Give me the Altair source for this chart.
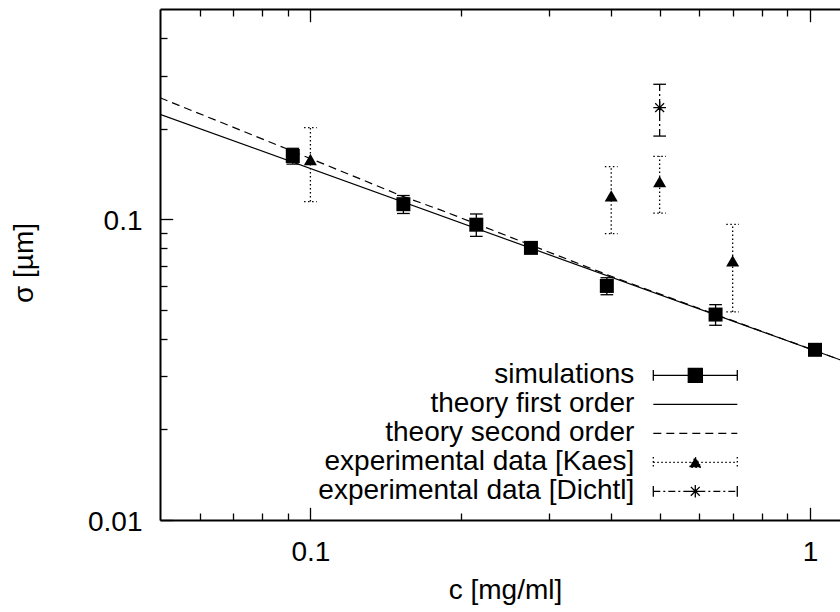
import altair as alt
import pandas as pd

FONT = "Liberation Sans"
FS = 28

# ---------------- data ----------------
sim_c = [0.0922, 0.1535, 0.2148, 0.2763, 0.392, 0.647, 1.023]
sim_s = [0.1623, 0.1122, 0.0959, 0.0803, 0.0600, 0.0482, 0.0368]
sim_err = [0.0098, 0.0077, 0.0082, 0.0020, 0.0039, 0.0038, 0.0010]

kaes_c = [0.1, 0.4, 0.5, 0.7]
kaes_s = [0.158, 0.1195, 0.1333, 0.0727]
kaes_err = [0.0435, 0.0300, 0.0285, 0.0235]

dichtl_c = [0.5]
dichtl_s = [0.235]
dichtl_err = [0.046]

th1_c = [0.05, 1.148]
th1_s = [0.2233, 0.0341]
th2_c = [0.05, 0.0891, 0.1535, 0.182, 0.4, 0.7, 1.148]
th2_s = [0.2535, 0.1721, 0.1189, 0.1074, 0.0646, 0.0460, 0.0341]

legend_labels = [
    "simulations",
    "theory first order",
    "theory second order",
    "experimental data [Kaes]",
    "experimental data [Dichtl]",
]

x_domain = [0.05, 1.148]
y_domain = [0.01, 0.5]
x_major = [0.1, 1]
x_minor = [0.06, 0.07, 0.08, 0.09, 0.2, 0.3, 0.4, 0.5, 0.6, 0.7, 0.8, 0.9]
y_major = [0.01, 0.1]
y_minor = [0.02, 0.03, 0.04, 0.05, 0.06, 0.07, 0.08, 0.09, 0.2, 0.3, 0.4]

# ---------------- styles ----------------
W, H = 680, 511
LW = 1.3
DASH_SOLID = [1, 0]
DASH_SECOND = [8, 5]
DASH_KAES = [1.5, 2.5]
DASH_DICHTL = [7, 3, 2, 3]

CAP = "M-1,0L1,0"
STAR = ("M0,0L1,0M0,0L-1,0M0,0L0,1M0,0L0,-1"
        "M0,0L0.7,0.7M0,0L-0.7,-0.7M0,0L0.7,-0.7M0,0L-0.7,0.7")
# legend symbols (1 unit = 13 px, symbol size 676)
SYM_SIM = ("M-3.23,0L3.23,0M-3.23,-0.41L-3.23,0.41M3.23,-0.41L3.23,0.41"
           "M-0.54,-0.54L0.54,-0.54L0.54,0.54L-0.54,0.54Z")
SYM_LINE = "M-3.23,0L3.23,0"
SYM_KAES = ("M-3.23,0L3.23,0M-3.23,-0.41L-3.23,0.41M3.23,-0.41L3.23,0.41"
            "M0,-0.39L0.45,0.39L-0.45,0.39Z")
SYM_DICHTL = ("M-3.23,0L3.23,0M-3.23,0L-3.23,-0.41M-3.23,0L-3.23,0.41"
              "M3.23,0L3.23,-0.41M3.23,0L3.23,0.41"
              "M0,0L0.485,0M0,0L-0.485,0M0,0L0,0.485M0,0L0,-0.485"
              "M0,0L0.343,0.343M0,0L-0.343,-0.343M0,0L0.343,-0.343M0,0L-0.343,0.343")


def err_df(c, s, e):
    return pd.DataFrame({"c": c, "s": s,
                         "lo": [a - b for a, b in zip(s, e)],
                         "hi": [a + b for a, b in zip(s, e)]})


def cap_df(c, s, e):
    d = err_df(c, s, e)
    return pd.concat([pd.DataFrame({"c": d["c"], "s": d["lo"]}),
                      pd.DataFrame({"c": d["c"], "s": d["hi"]})], ignore_index=True)


sim_df = err_df(sim_c, sim_s, sim_err)
kaes_df = err_df(kaes_c, kaes_s, kaes_err)
dichtl_df = err_df(dichtl_c, dichtl_s, dichtl_err)
sim_caps = cap_df(sim_c, sim_s, sim_err)
kaes_caps = cap_df(kaes_c, kaes_s, kaes_err)
dichtl_caps = cap_df(dichtl_c, dichtl_s, dichtl_err)
th1_df = pd.DataFrame({"c": th1_c, "s": th1_s})
th2_df = pd.DataFrame({"c": th2_c, "s": th2_s})
legend_df = pd.DataFrame({"series": legend_labels,
                          "c": [0.1] * 5, "s": [0.1] * 5})

xs = alt.Scale(type="log", domain=x_domain, nice=False)
ys = alt.Scale(type="log", domain=y_domain, nice=False)


def tick_axis(orient, offset, values, size, domain=False):
    return alt.Axis(orient=orient, offset=offset, values=values, tickSize=size,
                    tickWidth=LW, tickColor="black", ticks=True, labels=False,
                    domain=domain, domainColor="black", domainWidth=2,
                    grid=False, title=None)


x_main = alt.Axis(orient="bottom", values=x_major, format="~g", ticks=False,
                  tickSize=0, labelFont=FONT, labelFontSize=FS, labelColor="black",
                  labelBaseline="alphabetic", labelPadding=40, labelAlign="center",
                  domain=True, domainColor="black", domainWidth=2, grid=False,
                  title="c [mg/ml]", titleFont=FONT, titleFontSize=FS,
                  titleFontWeight="normal", titleColor="black", titleX=345,
                  titleY=78, titleBaseline="alphabetic", titleAlign="center")
y_main = alt.Axis(orient="left", values=y_major, format="~g", ticks=False,
                  tickSize=0, labelFont=FONT, labelFontSize=FS, labelColor="black",
                  labelBaseline="middle", labelAlign="right", labelPadding=18,
                  labelOffset=2,
                  domain=True, domainColor="black", domainWidth=2, grid=False,
                  title="σ [µm]", titleFont=FONT, titleFontSize=FS,
                  titleFontWeight="normal", titleColor="black", titleAngle=270,
                  titleX=-128, titleY=253.5, titleBaseline="alphabetic",
                  titleAlign="center")


def xy(xaxis, yaxis):
    return dict(x=alt.X("c:Q", scale=xs, axis=xaxis),
                y=alt.Y("s:Q", scale=ys, axis=yaxis))


# theory lines
l_th1 = alt.Chart(th1_df).mark_line(color="black", strokeWidth=1.2, clip=True).encode(
    **xy(x_main, y_main))
l_th2 = alt.Chart(th2_df).mark_line(color="black", strokeWidth=1.2, clip=True,
                                    strokeDash=DASH_SECOND).encode(
    **xy(tick_axis("bottom", -H, x_major, 12.7, domain=True),
         tick_axis("right", -W, y_major, 12.7)))

# simulations
l_sim_bar = alt.Chart(sim_df).mark_rule(color="black", strokeWidth=LW).encode(
    x=alt.X("c:Q", scale=xs, axis=tick_axis("bottom", -H, x_minor, 7)),
    y=alt.Y("lo:Q", scale=ys, axis=tick_axis("right", -W, y_minor, 7)),
    y2="hi:Q")
l_sim_cap = alt.Chart(sim_caps).mark_point(
    shape=CAP, filled=False, color="black", strokeWidth=LW, size=161, opacity=1).encode(
    **xy(tick_axis("top", -H, x_major, 12.7), None))
l_sim_pt = alt.Chart(sim_df).mark_point(
    shape="square", filled=True, color="black", size=196, opacity=1).encode(
    **xy(tick_axis("top", -H, x_minor, 7), None))

# Kaes
l_kaes_bar = alt.Chart(kaes_df).mark_rule(color="black", strokeWidth=LW,
                                          strokeDash=DASH_KAES).encode(
    x=alt.X("c:Q", scale=xs, axis=None),
    y=alt.Y("lo:Q", scale=ys, axis=None), y2="hi:Q")
l_kaes_cap = alt.Chart(kaes_caps).mark_point(
    shape=CAP, filled=False, color="black", strokeWidth=LW, size=161, opacity=1,
    strokeDash=DASH_KAES).encode(**xy(None, None))
l_kaes_pt = alt.Chart(kaes_df).mark_point(
    shape="triangle-up", filled=True, color="black", size=170, opacity=1).encode(
    **xy(None, None))

# Dichtl
l_di_bar = alt.Chart(dichtl_df).mark_rule(color="black", strokeWidth=LW,
                                          strokeDash=DASH_DICHTL).encode(
    x=alt.X("c:Q", scale=xs, axis=None),
    y=alt.Y("lo:Q", scale=ys, axis=None), y2="hi:Q")
l_di_cap = alt.Chart(dichtl_caps).mark_point(
    shape=CAP, filled=False, color="black", strokeWidth=LW, size=161, opacity=1).encode(
    **xy(None, None))
l_di_pt = alt.Chart(dichtl_df).mark_point(
    shape=STAR, filled=False, color="black", strokeWidth=LW, size=161, opacity=1).encode(
    **xy(None, None))

# legend carrier (no marks drawn, only the legend)
leg = alt.Legend(orient="none", legendX=446.3, legendY=352.3, title=None,
                 labelAlign="right", labelOffset=alt.ExprRef("-75"), labelFont=FONT,
                 labelFontSize=FS, labelColor="black", labelLimit=500,
                 rowPadding=1, padding=0, symbolOffset=75,
                 symbolSize=676, symbolStrokeWidth=LW)
l_leg = alt.Chart(legend_df).transform_filter("false").mark_point(
    filled=False, fill="black", stroke="black", strokeWidth=LW, size=676,
    opacity=1).encode(
    x=alt.X("c:Q", scale=xs, axis=None),
    y=alt.Y("s:Q", scale=ys, axis=None),
    shape=alt.Shape("series:N", title=None, legend=leg,
                    scale=alt.Scale(domain=legend_labels,
                                    range=[SYM_SIM, SYM_LINE, SYM_LINE, SYM_KAES, SYM_DICHTL])),
    strokeDash=alt.StrokeDash("series:N", title=None, legend=leg,
                              scale=alt.Scale(domain=legend_labels,
                                              range=[DASH_SOLID, DASH_SOLID, DASH_SECOND,
                                                     DASH_KAES, DASH_DICHTL])),
)

chart = alt.layer(
    l_th1, l_th2, l_sim_bar, l_sim_cap, l_sim_pt,
    l_kaes_bar, l_kaes_cap, l_kaes_pt, l_di_bar, l_di_cap, l_di_pt, l_leg,
).resolve_axis(x="independent", y="independent").properties(
    width=W, height=H,
    autosize=alt.AutoSizeParams(type="none"),
    padding={"left": 160, "top": 9, "right": 0, "bottom": 92},
    background="white",
).configure_view(stroke=None)

chart.save("out.html", embed_options={"renderer": "svg", "actions": False})
